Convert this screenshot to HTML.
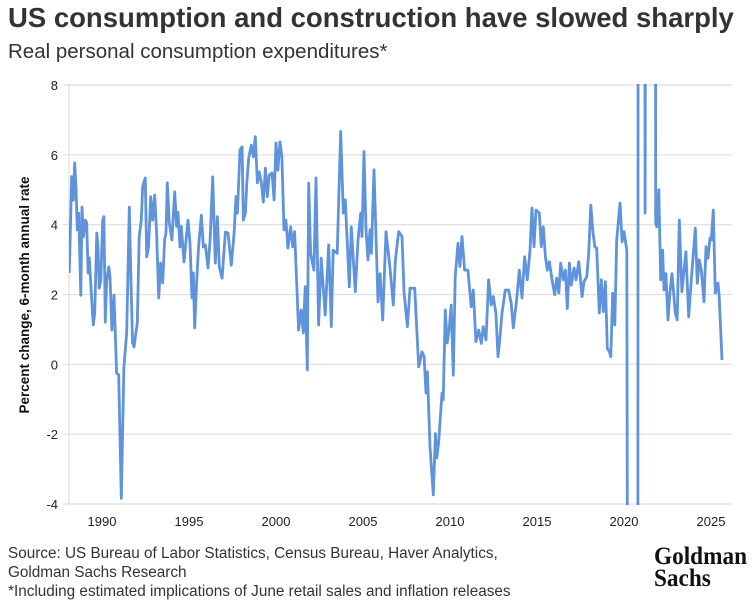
<!DOCTYPE html>
<html style="overflow:hidden"><head><meta charset="utf-8"><style>
html,body{margin:0;background:#fff;width:752px;height:608px;overflow:hidden}
body{font-family:"Liberation Sans",sans-serif;color:#333;position:relative}
.t{position:absolute;white-space:nowrap}
</style></head><body>
<div class="t" style="left:8px;top:2px;font-size:27.5px;font-weight:bold;color:#333">US consumption and construction have slowed sharply</div>
<div class="t" style="left:8px;top:40px;font-size:20.5px;color:#333">Real personal consumption expenditures*</div>
<svg id="chart" width="752" height="608" style="position:absolute;left:0;top:0">
<defs><clipPath id="pc"><rect x="69" y="84" width="663" height="421"/></clipPath></defs>
<g id="grid"></g><g id="axes"></g><g id="series" clip-path="url(#pc)"></g>
<text transform="translate(29,295) rotate(-90)" text-anchor="middle" font-size="13.5" font-weight="bold" fill="#111" font-family="Liberation Sans, sans-serif">Percent change, 6-month annual rate</text>
</svg>
<div class="t" style="left:8px;top:544px;font-size:15.3px;line-height:19px;color:#333">Source: US Bureau of Labor Statistics, Census Bureau, Haver Analytics,<br>Goldman Sachs Research<br>*Including estimated implications of June retail sales and inflation releases</div>
<div class="t" style="left:654px;top:546px;font-family:'Liberation Serif',serif;font-weight:bold;font-size:25px;line-height:22px;color:#111;transform:scaleX(0.93);transform-origin:left top">Goldman<br>Sachs</div>
<script>
const yTicks=[-4,-2,0,2,4,6,8];
const xTicks=[1990,1995,2000,2005,2010,2015,2020,2025];
const dates=[1988.12,1988.26,1988.35,1988.43,1988.51,1988.58,1988.66,1988.78,1988.85,1988.93,1989.04,1989.12,1989.20,1989.27,1989.43,1989.50,1989.58,1989.70,1989.77,1989.84,1989.93,1990.04,1990.11,1990.19,1990.27,1990.39,1990.46,1990.57,1990.69,1990.76,1990.84,1990.96,1991.11,1991.26,1991.42,1991.57,1991.68,1991.76,1991.84,1992.03,1992.14,1992.26,1992.34,1992.49,1992.57,1992.68,1992.80,1992.91,1993.03,1993.14,1993.26,1993.37,1993.49,1993.60,1993.68,1993.75,1993.87,1994.02,1994.18,1994.29,1994.37,1994.48,1994.56,1994.71,1994.94,1995.06,1995.17,1995.25,1995.33,1995.44,1995.56,1995.71,1995.82,1995.94,1996.09,1996.21,1996.36,1996.51,1996.63,1996.74,1996.90,1997.09,1997.24,1997.43,1997.59,1997.70,1997.78,1997.93,1998.05,1998.12,1998.24,1998.32,1998.43,1998.58,1998.70,1998.81,1998.93,1999.04,1999.16,1999.27,1999.39,1999.50,1999.61,1999.77,1999.89,2000.00,2000.11,2000.23,2000.34,2000.46,2000.57,2000.69,2000.84,2000.96,2001.07,2001.30,2001.45,2001.57,2001.68,2001.80,2001.88,2001.99,2002.18,2002.30,2002.45,2002.60,2002.83,2003.03,2003.18,2003.29,2003.52,2003.72,2003.87,2003.98,2004.21,2004.33,2004.56,2004.71,2004.87,2004.94,2005.06,2005.17,2005.29,2005.40,2005.48,2005.63,2005.86,2005.98,2006.13,2006.32,2006.55,2006.74,2006.86,2007.05,2007.24,2007.36,2007.55,2007.70,2007.97,2008.20,2008.39,2008.51,2008.62,2008.70,2008.85,2009.04,2009.16,2009.24,2009.35,2009.54,2009.61,2009.73,2009.84,2009.96,2010.07,2010.19,2010.30,2010.46,2010.57,2010.69,2010.84,2011.03,2011.22,2011.34,2011.49,2011.65,2011.80,2011.91,2012.07,2012.22,2012.37,2012.49,2012.64,2012.76,2012.87,2012.99,2013.18,2013.37,2013.52,2013.64,2013.83,2013.98,2014.14,2014.29,2014.44,2014.60,2014.71,2014.83,2014.94,2015.13,2015.25,2015.36,2015.48,2015.59,2015.71,2015.86,2016.02,2016.13,2016.25,2016.36,2016.51,2016.63,2016.74,2016.86,2016.97,2017.13,2017.24,2017.40,2017.59,2017.70,2017.86,2017.97,2018.09,2018.20,2018.32,2018.43,2018.58,2018.70,2018.81,2018.93,2019.04,2019.16,2019.24,2019.35,2019.47,2019.58,2019.77,2019.89,2020.00,2020.16,2020.29,2020.78,2020.82,2021.15,2021.21,2021.30,2021.78,2021.82,2021.88,2022.00,2022.11,2022.22,2022.30,2022.41,2022.53,2022.64,2022.76,2022.95,2023.06,2023.18,2023.33,2023.56,2023.72,2023.87,2024.10,2024.21,2024.33,2024.44,2024.60,2024.71,2024.83,2024.94,2025.02,2025.13,2025.25,2025.40,2025.47,2025.63];
const values=[2.62,5.38,4.7,5.77,5.0,3.85,4.33,1.98,4.5,3.65,4.13,4.05,2.62,3.05,1.64,1.13,1.47,3.76,3.36,2.18,2.4,4.13,4.23,1.21,2.4,2.79,2.5,0.98,1.98,0.98,-0.25,-0.3,-3.84,-0.08,0.9,4.5,2.13,0.61,0.5,1.18,3.65,4.13,5.1,5.34,3.08,3.36,4.8,4.13,4.85,3.76,1.9,2.9,2.33,3.56,3.76,5.2,4.05,3.56,4.94,3.95,4.36,3.36,3.95,2.93,4.13,3.47,1.9,2.62,1.04,2.4,3.42,4.27,3.36,3.42,2.76,3.56,5.37,2.9,4.23,2.79,2.47,3.79,3.76,2.84,3.76,4.8,4.33,6.14,6.23,4.13,4.33,5.2,5.91,6.28,5.94,6.52,5.2,5.51,5.2,4.65,5.62,4.8,5.42,5.48,4.71,6.34,5.56,6.37,5.94,3.85,4.13,3.33,3.94,3.37,3.8,0.98,1.56,0.9,2.22,-0.16,5.19,3.18,2.7,5.34,1.13,3.04,1.41,3.42,1.08,3.27,3.18,6.67,4.33,4.71,2.22,3.94,2.08,3.56,4.33,3.66,6.09,3.85,2.99,3.85,3.18,5.57,1.79,2.6,1.27,3.8,2.76,1.7,2.99,3.8,3.66,2.04,1.08,2.18,2.18,-0.07,0.36,0.22,-0.82,-0.21,-2.36,-3.74,-1.98,-2.68,-2.22,-0.82,-1.02,1.56,0.61,1.04,1.7,-0.31,2.51,3.47,2.8,3.66,2.7,2.7,1.65,2.13,0.65,0.98,0.6,1.08,0.7,2.42,1.7,1.94,1.47,0.22,0.75,1.47,2.13,2.13,1.75,1.04,1.84,2.7,1.9,3.08,2.42,3.27,4.48,3.37,4.42,4.33,3.37,3.94,3.08,2.7,2.94,2.42,1.99,2.47,2.04,2.9,2.42,2.7,1.6,2.9,2.27,2.76,2.42,2.94,1.94,2.37,2.51,3.18,4.56,3.85,3.37,3.33,1.47,2.42,1.51,2.37,0.46,0.36,0.22,2.04,1.13,3.56,4.62,3.51,3.8,3.27,-30,-30,30,30,4.33,30,30,4.05,3.94,5.0,2.42,3.27,2.13,2.6,1.27,2.04,2.6,1.47,1.27,4.13,2.08,3.23,1.36,2.42,3.9,2.32,2.99,2.7,1.79,3.37,3.04,3.62,3.56,4.42,2.04,2.33,1.94,0.12];
const NS='http://www.w3.org/2000/svg';
const X0=69,X1=732,Y0=85,Y1=504,yMin=-4,yMax=8;
function xs(v){return 102+(v-1990)*17.4;}
function ys(v){return Y1-(v-yMin)/(yMax-yMin)*(Y1-Y0);}
function mk(t,a,p){const e=document.createElementNS(NS,t);for(const k in a)e.setAttribute(k,a[k]);p.appendChild(e);return e;}
const grid=document.getElementById('grid'),axes=document.getElementById('axes'),ser=document.getElementById('series');
yTicks.forEach(v=>{
 const l=mk('line',{x1:63,x2:X1,y1:ys(v),y2:ys(v),stroke:'#dedede','stroke-width':1.2},grid);
 
 
 const t=mk('text',{x:58,y:ys(v)+5,'text-anchor':'end','font-size':13,fill:'#222','font-family':'Liberation Sans, sans-serif'},axes);
 t.textContent=v;
 
 
});
const ax=mk('line',{x1:X0,x2:X0,y1:Y0,y2:Y1+2,stroke:'#dedede','stroke-width':1.2},axes);


xTicks.forEach(v=>{
 const t=mk('text',{x:xs(v),y:526,'text-anchor':'middle','font-size':13,fill:'#222','font-family':'Liberation Sans, sans-serif'},axes);
 t.textContent=v;
 
 
});
const pts=dates.map((d,i)=>xs(d).toFixed(1)+','+ys(values[i]).toFixed(1)).join(' ');
const pl=mk('polyline',{points:pts,fill:'none',stroke:'#5f93db','stroke-width':2.8,'stroke-linejoin':'round'},ser);


</script>
</body></html>
